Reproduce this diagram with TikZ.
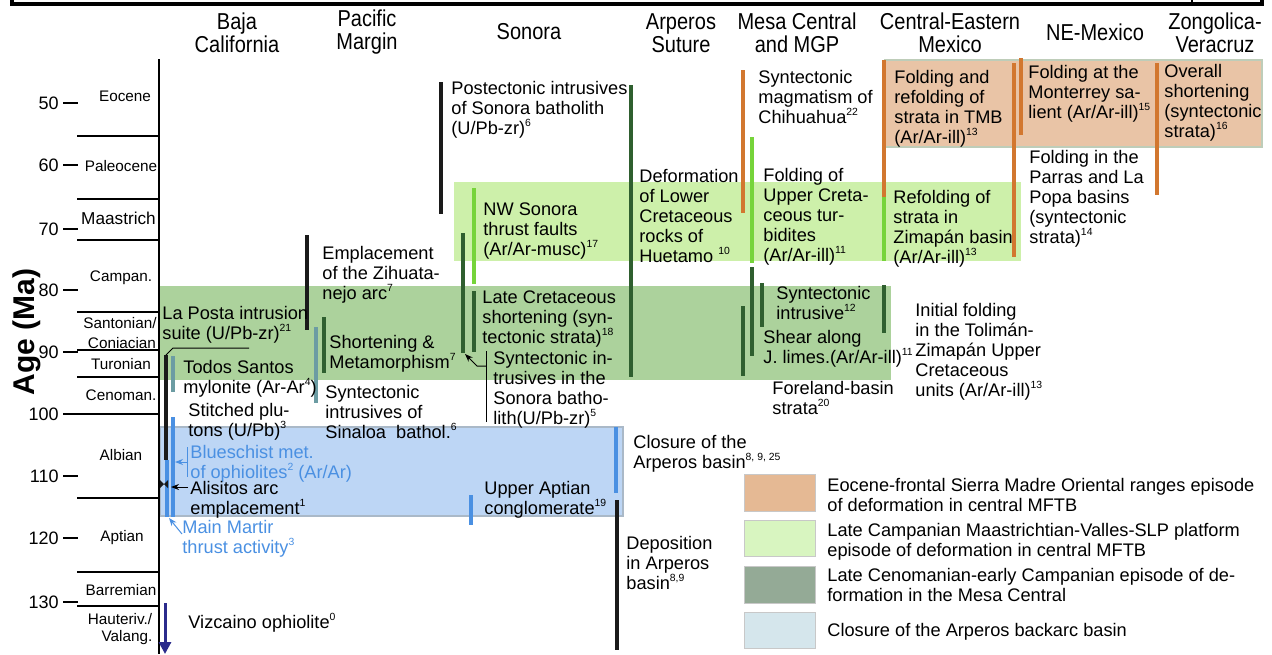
\documentclass[tikz,border=0pt]{standalone}
\usepackage{fontspec}
\setmainfont{Liberation Sans}
\newfontfamily\hdrfont[FakeStretch=0.87]{Liberation Sans}
\usetikzlibrary{arrows.meta}
\definecolor{orangeband}{RGB}{233,196,166}
\definecolor{orangeedge}{RGB}{190,205,185}
\definecolor{lgreenband}{RGB}{205,240,170}
\definecolor{dgreenband}{RGB}{172,210,156}
\definecolor{blueband}{RGB}{189,214,245}
\definecolor{blueedge}{RGB}{170,185,200}
\definecolor{legorange}{RGB}{229,185,148}
\definecolor{leglgreen}{RGB}{216,245,192}
\definecolor{legdgreen}{RGB}{148,170,150}
\definecolor{legblue}{RGB}{213,230,236}
\definecolor{cblack}{RGB}{26,26,26}
\definecolor{cdgreen}{RGB}{47,95,47}
\definecolor{clgreen}{RGB}{118,212,58}
\definecolor{corange}{RGB}{210,119,47}
\definecolor{cblue}{RGB}{74,144,226}
\definecolor{cteal}{RGB}{108,156,163}
\definecolor{cnavy}{RGB}{43,43,140}
\definecolor{legedge}{RGB}{200,200,200}
\newcommand\supx[1]{\raisebox{0.42em}{\fontsize{5.2}{5}\selectfont #1}}
\newcommand\fl{\rule{0pt}{8pt}}
\begin{document}
\begin{tikzpicture}[x=0.5pt,y=-0.5pt,
  txt/.style={anchor=north west, yshift=8pt, align=left, inner sep=0pt, font=\fontsize{9.1}{10}\selectfont},
  hdr/.style={align=center, inner sep=0pt, font=\hdrfont\fontsize{11.5}{11.5}\selectfont},
  stage/.style={inner sep=0pt, font=\fontsize{7.65}{8}\selectfont},
  agenum/.style={anchor=east, inner sep=0pt, font=\fontsize{9}{10}\selectfont},
  bar/.style={line width=1.8pt},
  leader/.style={line width=0.5pt},
  legbox/.style={draw=legedge, line width=0.5pt}]
\useasboundingbox (0,0) rectangle (1272,654);

% frame remnant at top
\draw[line width=1.6pt] (12,0) -- (12,4) -- (1262,4) -- (1262,0);
\draw[line width=0.6pt] (1192,0) -- (1192,4);

% background bands
\fill[orangeband, draw=orangeedge, line width=0.6pt] (885,60) rectangle (1262,147);
\fill[lgreenband] (454,182) rectangle (1021,261);
\fill[dgreenband] (160,286) rectangle (891,380);
\fill[blueband, draw=blueedge, line width=0.6pt] (160,427) rectangle (623,516);

% axis
\draw[line width=1pt] (159,59) -- (159,654);
\foreach \yy in {136,199,240,312,350,377,414,498,572,606}
  \draw[line width=0.6pt] (77,\yy) -- (159,\yy);
\foreach \yy/\lab in {103/50,165/60,229/70,290/80,352/90,414/100,476/110,538/120,602/130}{
  \draw[line width=1pt] (63,\yy) -- (78,\yy);
  \node[agenum] (age\lab) at (59,\yy) {\lab};
}
\node[rotate=90, inner sep=0pt, font=\bfseries\fontsize{15}{15}\selectfont] (agelabel) at (27,332) {Age (Ma)};

% stages
\node[stage] (stEoc) at (125,96) {Eocene};
\node[stage] (stPal) at (121,166) {Paleocene};
\node[stage, font=\fontsize{8.6}{9}\selectfont] (stMaa) at (118.5,218) {Maastrich};
\node[stage] (stCam) at (121,278) {Campan.};
\node[stage] (stSan) at (120,323) {Santonian/};
\node[stage] (stCon) at (122,343) {Coniacian};
\node[stage] (stTur) at (121,364) {Turonian};
\node[stage] (stCen) at (121,395) {Cenoman.};
\node[stage] (stAlb) at (121,455) {Albian};
\node[stage] (stApt) at (122,538) {Aptian};
\node[stage] (stBar) at (121,590) {Barremian};
\node[stage] (stHau) at (120,619) {Hauteriv./};
\node[stage] (stVal) at (127,638) {Valang.};

% headers
\node[hdr] (hBaja) at (237,33) {Baja\\California};
\node[hdr] (hPac) at (367,32) {Pacific\\Margin};
\node[hdr] (hSon) at (529,32) {Sonora};
\node[hdr] (hArp) at (681,33) {Arperos\\Suture};
\node[hdr] (hMes) at (797,33) {Mesa Central\\and MGP};
\node[hdr] (hCen) at (950,33) {Central-Eastern\\Mexico};
\node[hdr] (hNE) at (1095,32) {NE-Mexico};
\node[hdr] (hZon) at (1215,33) {Zongolica-\\Veracruz};

% bars: Baja California
\draw[bar, cblack] (166,355) -- (166,460);
\draw[bar, cteal] (173,356) -- (173,392);
\draw[bar, cblue] (167,460) -- (167,517);
\draw[bar, cblue] (173,417) -- (173,517);
\draw[line width=1.5pt, cnavy, -{Triangle[length=6pt,width=6pt]}] (165,603) -- (165,654);
% Pacific margin
\draw[bar, cblack] (307,235) -- (307,330);
\draw[bar, cdgreen] (324,317) -- (324,373);
\draw[bar, cteal] (316,327) -- (316,403);
% Sonora
\draw[bar, cblack] (441,82) -- (441,214);
\draw[bar, clgreen] (474,188) -- (474,284);
\draw[bar, cdgreen] (463,233) -- (463,353);
\draw[bar, cdgreen] (474,291) -- (474,352);
\draw[bar, cblue] (471,495) -- (471,525);
% Arperos
\draw[bar, cdgreen] (631,85) -- (631,377);
\draw[bar, cblue] (616,427) -- (616,493);
\draw[bar, cblack] (617,500) -- (617,650);
% Mesa Central
\draw[bar, corange] (743,70) -- (743,213);
\draw[bar, clgreen] (752,137) -- (752,263);
\draw[bar, cdgreen] (752,267) -- (752,356);
\draw[bar, cdgreen] (762,283) -- (762,327);
\draw[bar, cdgreen] (743,306) -- (743,376);
% Central-Eastern
\draw[bar, corange] (884,60) -- (884,197);
\draw[bar, clgreen] (884,197) -- (884,261);
\draw[bar, corange] (1014,63) -- (1014,257);
\draw[bar, cdgreen] (884,285) -- (884,333);
% NE Mexico / Zongolica
\draw[bar, corange] (1021,58) -- (1021,135);
\draw[bar, corange] (1157,63) -- (1157,195);

% text: Baja California
\node[txt] (laposta) at (162,319) {\fl La Posta intrusion\\suite (U/Pb-zr)\supx{21}};
\node[txt] (todos) at (183,373) {\fl Todos Santos\\mylonite (Ar-Ar\supx{4})};
\node[txt] (stitched) at (188,416) {\fl Stitched plu-\\tons (U/Pb)\supx{3}};
\node[txt, text=cblue] (blueschist) at (190,458) {\fl Blueschist met.\\of ophiolites\supx{2} (Ar/Ar)};
\node[txt] (alisitos) at (190,494) {\fl Alisitos arc\\emplacement\supx{1}};
\node[txt, text=cblue] (martir) at (182,533) {\fl Main Martir\\thrust activity\supx{3}};
\node[txt] (vizcaino) at (188,628) {\fl Vizcaino ophiolite\supx{0}};
% Pacific margin
\node[txt] (zihua) at (322,259) {\fl Emplacement\\of the Zihuata-\\nejo arc\supx{7}};
\node[txt] (shortening) at (329,348) {\fl Shortening \&\\Metamorphism\supx{7}};
\node[txt] (sinaloa) at (325,398) {\fl Syntectonic\\intrusives of\\Sinaloa\ \ bathol.\supx{6}};
% Sonora
\node[txt] (postect) at (451,94) {\fl Postectonic intrusives\\of Sonora batholith\\(U/Pb-zr)\supx{6}};
\node[txt] (nwsonora) at (483,215) {\fl NW Sonora\\thrust faults\\(Ar/Ar-musc)\supx{17}};
\node[txt] (latecret) at (482,303) {\fl Late Cretaceous\\shortening (syn-\\tectonic strata)\supx{18}};
\node[txt] (syntint) at (493,364) {\fl Syntectonic in-\\trusives in the\\Sonora batho-\\lith(U/Pb-zr)\supx{5}};
\node[txt] (upperapt) at (484,494) {\fl Upper Aptian\\conglomerate\supx{19}};
% Arperos
\node[txt] (huetamo) at (639,182) {\fl Deformation\\of Lower\\Cretaceous\\rocks of\\Huetamo \supx{10}};
\node[txt] (closure) at (633,448) {\fl Closure of the\\Arperos basin\supx{8, 9, 25}};
\node[txt] (deposition) at (626,549) {\fl Deposition\\in Arperos\\basin\supx{8,9}};
% Mesa Central
\node[txt] (chihuahua) at (758,83) {\fl Syntectonic\\magmatism of\\Chihuahua\supx{22}};
\node[txt] (turbidites) at (763,181) {\fl Folding of\\Upper Creta-\\ceous tur-\\bidites\\(Ar/Ar-ill)\supx{11}};
\node[txt] (syntintr) at (776,299) {\fl Syntectonic\\intrusive\supx{12}};
\node[txt] (shear) at (763,343) {\fl Shear along\\J. limes.(Ar/Ar-ill)\supx{11}};
\node[txt] (foreland) at (772,394) {\fl Foreland-basin\\strata\supx{20}};
% Central-Eastern
\node[txt] (tmb) at (894,83) {\fl Folding and\\refolding of\\strata in TMB\\(Ar/Ar-ill)\supx{13}};
\node[txt] (zimapan) at (893,203) {\fl Refolding of\\strata in\\Zimapán basin\\(Ar/Ar-ill)\supx{13}};
\node[txt] (toliman) at (915,316) {\fl Initial folding\\in the Tolimán-\\Zimapán Upper\\Cretaceous\\units (Ar/Ar-ill)\supx{13}};
% NE Mexico / Zongolica
\node[txt] (monterrey) at (1028,78) {\fl Folding at the\\Monterrey sa-\\lient (Ar/Ar-ill)\supx{15}};
\node[txt] (overall) at (1164,77) {\fl Overall\\shortening\\(syntectonic\\strata)\supx{16}};
\node[txt] (parras) at (1029,163) {\fl Folding in the\\Parras and La\\Popa basins\\(syntectonic\\strata)\supx{14}};

% leaders
\coordinate (lpA) at (249,348);
\coordinate (lpB) at (173,348);
\coordinate (lpC) at (166,355);
\draw[leader] (lpA) -- (lpB) -- (lpC);
\coordinate (bsA) at (187,447);
\coordinate (bsB) at (187,477);
\coordinate (bsM) at (187,462);
\coordinate (bsT) at (175,462);
\draw[leader, cblue] (bsA) -- (bsB);
\draw[leader, cblue, -{Stealth[length=4pt,width=3pt]}] (bsM) -- (bsT);
\coordinate (alA) at (188,487);
\coordinate (alT) at (171,487);
\draw[leader, -{Stealth[length=4pt,width=3pt]}] (alA) -- (alT);
\fill[cblack] (160,480) -- (164,484) -- (160,488) -- cycle;
\fill[cblack] (168,480) -- (164,484) -- (168,488) -- cycle;
\coordinate (mmA) at (182,534);
\coordinate (mmT) at (169,518);
\draw[leader, cblue, -{Stealth[length=4pt,width=3pt]}] (mmA) -- (mmT);
\coordinate (siA) at (486,422);
\coordinate (siB) at (486,351);
\coordinate (siM) at (486,366);
\coordinate (siK) at (477,366);
\coordinate (siT) at (465,354);
\draw[leader] (siA) -- (siB);
\draw[leader, -{Stealth[length=4pt,width=3pt]}] (siM) -- (siK) -- (siT);

% legend
\draw[legbox, fill=legorange] (744,474) rectangle (815,511);
\draw[legbox, fill=leglgreen] (744,520) rectangle (815,556);
\draw[legbox, fill=legdgreen] (744,566) rectangle (815,603);
\draw[legbox, fill=legblue] (744,612) rectangle (815,648);
\node[txt] (leg1) at (827,491) {\fl Eocene-frontal Sierra Madre Oriental ranges episode\\of deformation in central MFTB};
\node[txt] (leg2) at (827,536) {\fl Late Campanian Maastrichtian-Valles-SLP platform\\episode of deformation in central MFTB};
\node[txt] (leg3) at (827,581) {\fl Late Cenomanian-early Campanian episode of de-\\formation in the Mesa Central};
\node[txt] (leg4) at (827,636) {\fl Closure of the Arperos backarc basin};
\end{tikzpicture}
\end{document}
